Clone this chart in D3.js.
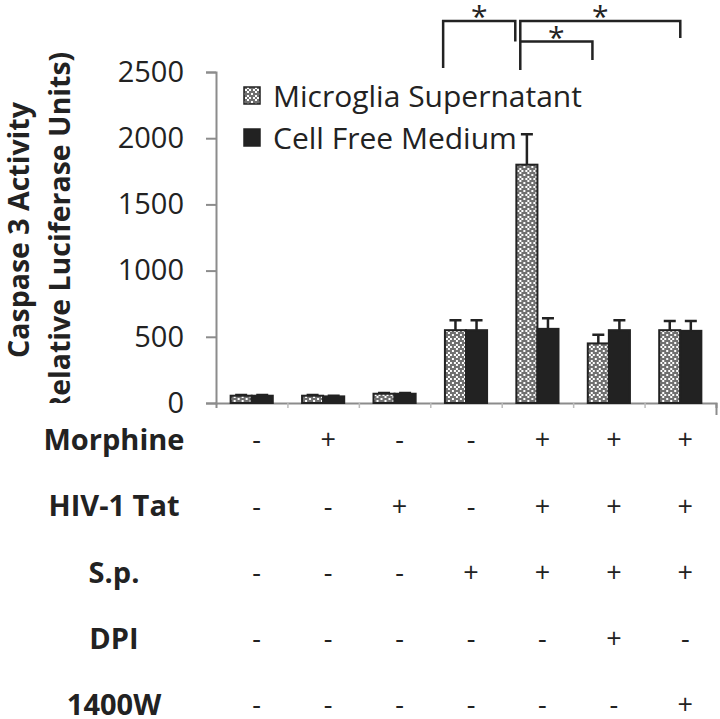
<!DOCTYPE html>
<html>
<head>
<meta charset="utf-8">
<script src="https://cdn.jsdelivr.net/npm/d3@7"></script>
<style>
  body { margin: 0; background: #fff; }
  svg { display: block; }
  text { font-family: 'Open Sans', sans-serif; fill: #222; }
</style>
</head>
<body>
<svg id="chart"></svg>
<script>
// data
const groups = ['Control', 'Morphine', 'Tat', 'S.p.', 'M+T+S.p.', 'M+T+S.p.+DPI', 'M+T+S.p.+1400W'];
const seriesNames = ['Microglia Supernatant', 'Cell Free Medium'];
const microglia = [55, 55, 70, 550, 1800, 450, 550];
const microgliaErr = [5, 5, 5, 75, 230, 65, 70];
const cellFree = [55, 50, 70, 550, 560, 550, 545];
const cellFreeErr = [5, 5, 5, 75, 80, 75, 75];
const yTicks = [0, 500, 1000, 1500, 2000, 2500];

const treatments = ['Morphine', 'HIV-1 Tat', 'S.p.', 'DPI', '1400W'];
const morphine = ['-', '+', '-', '-', '+', '+', '+'];
const hivTat = ['-', '-', '+', '-', '+', '+', '+'];
const sp = ['-', '-', '-', '+', '+', '+', '+'];
const dpi = ['-', '-', '-', '-', '-', '+', '-'];
const w1400 = ['-', '-', '-', '-', '-', '-', '+'];

// significance brackets, in category units (x) and value units (y)
const brackets = [
  {x1: 3.18, x2: 4.19, top: 2885, end1: 2530, end2: 2730},
  {x1: 4.26, x2: 6.5, top: 2885, end1: 2515, end2: 2757},
  {x1: 4.26, x2: 5.27, top: 2730, end1: 2730, end2: 2590}
];

const width = 720, height = 719;
const margin = {top: 72, right: 4, bottom: 316, left: 216};
const plotW = width - margin.left - margin.right;
const plotH = height - margin.top - margin.bottom;

const svg = d3.select('#chart')
    .attr('width', width)
    .attr('height', height);

const defs = svg.append('defs');
const pat = defs.append('pattern')
    .attr('id', 'checker')
    .attr('patternUnits', 'userSpaceOnUse')
    .attr('width', 8)
    .attr('height', 8);
pat.append('rect').attr('width', 8).attr('height', 8).attr('fill', '#707070');
[[3, 0], [1, 2], [5, 2], [3, 4], [7, 6], [-1, 6]].forEach((p) => {
  pat.append('rect').attr('x', p[0]).attr('y', p[1]).attr('width', 2).attr('height', 2).attr('fill', '#fff');
});

defs.append('clipPath').attr('id', 'titleClip')
  .append('rect').attr('x', 0).attr('y', 0).attr('width', 200).attr('height', 403);

const g = svg.append('g')
    .attr('transform', 'translate(' + margin.left + ',' + margin.top + ')');

const x = d3.scaleBand().domain(groups).range([0, plotW]).paddingInner(0.41).paddingOuter(0.205);
const xs = d3.scaleBand().domain(seriesNames).range([0, x.bandwidth()]);
const catX = d3.scaleLinear().domain([0, groups.length]).range([0, plotW]);
const y = d3.scaleLinear().domain([0, 2500]).range([plotH, 0]);

// y axis
const yAxis = g.append('g')
    .call(d3.axisLeft(y).tickValues(yTicks).tickSize(10).tickPadding(22).tickFormat(d3.format('d')));
yAxis.select('.domain').attr('stroke', '#8c8c8c').attr('stroke-width', 2);
yAxis.selectAll('.tick line').attr('stroke', '#8c8c8c').attr('stroke-width', 2);
yAxis.selectAll('.tick text')
    .style('font-size', '29px')
    .attr('fill', '#222');

// x axis
const xAxis = g.append('g')
    .attr('transform', 'translate(0,' + plotH + ')')
    .call(d3.axisBottom(catX).tickValues(d3.range(1, groups.length + 1)).tickSize(5).tickFormat(''));
xAxis.select('.domain').attr('stroke', '#8c8c8c').attr('stroke-width', 2);
xAxis.selectAll('.tick line').attr('stroke', '#bbb').attr('stroke-width', 1.5);
xAxis.selectAll('.tick').filter((d) => d === groups.length).select('line')
    .attr('y2', 12).attr('stroke', '#8c8c8c').attr('stroke-width', 2);

const rows = groups.map((name, i) => ({
  name,
  vals: [
    {key: seriesNames[0], v: microglia[i], e: microgliaErr[i]},
    {key: seriesNames[1], v: cellFree[i], e: cellFreeErr[i]}
  ]
}));

const grp = g.selectAll('.grp')
    .data(rows)
    .enter()
    .append('g')
    .attr('class', 'grp')
    .attr('transform', (d) => 'translate(' + x(d.name) + ',0)');

// error bars (upward only)
grp.selectAll('.err')
    .data((d) => d.vals)
    .enter()
    .append('path')
    .attr('class', 'err')
    .attr('fill', 'none')
    .attr('stroke', '#222')
    .attr('stroke-width', 2.5)
    .attr('d', (d) => {
      const cx = xs(d.key) + xs.bandwidth() / 2;
      const top = y(d.v + d.e);
      return 'M' + cx + ',' + y(d.v) + 'V' + top + 'M' + (cx - 6) + ',' + top + 'H' + (cx + 6);
    });

grp.selectAll('.bar')
    .data((d) => d.vals)
    .enter()
    .append('rect')
    .attr('class', 'bar')
    .attr('x', (d) => xs(d.key))
    .attr('y', (d) => y(d.v))
    .attr('width', xs.bandwidth())
    .attr('height', (d) => plotH - y(d.v))
    .attr('fill', (d) => d.key === seriesNames[0] ? 'url(#checker)' : '#222')
    .attr('stroke', '#222')
    .attr('stroke-width', 2);

// legend
const legend = g.selectAll('.legend')
    .data(seriesNames)
    .enter()
    .append('g')
    .attr('class', 'legend')
    .attr('transform', (d, i) => 'translate(28,' + (15 + i * 42) + ')');
legend.append('rect')
    .attr('x', 0).attr('y', 0)
    .attr('width', 16).attr('height', 17)
    .attr('fill', (d, i) => i === 0 ? 'url(#checker)' : '#222')
    .attr('stroke', '#222')
    .attr('stroke-width', 1.5);
legend.append('text')
    .attr('x', 29)
    .attr('y', 9)
    .attr('dy', '0.35em')
    .style('font-size', '30px')
    .text((d) => d);

// significance brackets
brackets.forEach((b) => {
  const x1 = catX(b.x1), x2 = catX(b.x2);
  g.append('path')
      .attr('fill', 'none')
      .attr('stroke', '#222')
      .attr('stroke-width', 2.5)
      .attr('d', 'M' + x1 + ',' + y(b.end1) + 'V' + y(b.top) + 'H' + x2 + 'V' + y(b.end2));
  g.append('text')
      .attr('x', (x1 + x2) / 2)
      .attr('y', y(b.top) + 6)
      .attr('text-anchor', 'middle')
      .style('font-size', '30px')
      .text('*');
});

// y axis title
const title = svg.append('g').attr('clip-path', 'url(#titleClip)');
title.append('text')
    .attr('transform', 'translate(29,230) rotate(-90)')
    .attr('text-anchor', 'middle')
    .style('font-size', '28.5px')
    .style('font-weight', 'bold')
    .text('Caspase 3 Activity');
title.append('text')
    .attr('transform', 'translate(70,238) rotate(-90)')
    .attr('text-anchor', 'middle')
    .style('font-size', '28.5px')
    .style('font-weight', 'bold')
    .text('(Relative Luciferase Units)');

// treatment table
const table = [morphine, hivTat, sp, dpi, w1400];
const rowY = d3.scalePoint().domain(treatments).range([440, 705]);
const tbl = svg.append('g').attr('transform', 'translate(' + margin.left + ',0)');
treatments.forEach((t, r) => {
  svg.append('text')
      .attr('x', 114)
      .attr('y', rowY(t))
      .attr('dy', '0.35em')
      .attr('text-anchor', 'middle')
      .style('font-size', '29px')
      .style('font-weight', 'bold')
      .text(t);
  tbl.selectAll('.sign' + r)
      .data(table[r])
      .enter()
      .append('text')
      .attr('x', (d, i) => x(groups[i]) + x.bandwidth() / 2 + 5)
      .attr('y', rowY(t))
      .attr('dy', '0.35em')
      .attr('text-anchor', 'middle')
      .style('font-size', '27px')
      .text((d) => d);
});
</script>
</body>
</html>
